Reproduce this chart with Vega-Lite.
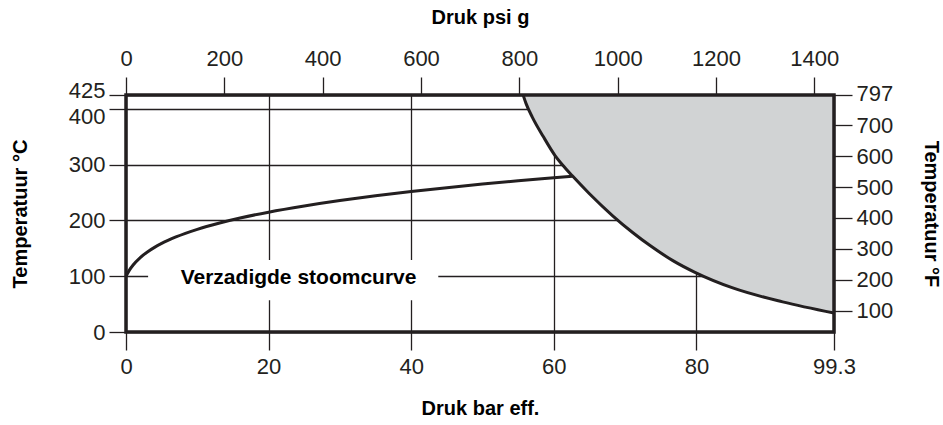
{
  "$schema": "https://vega.github.io/schema/vega-lite/v6.json",
  "width": 708,
  "height": 237,
  "autosize": "none",
  "padding": {"left": 126, "top": 95, "right": 109, "bottom": 93},
  "background": "white",
  "config": {
    "view": {"stroke": null},
    "axis": {
      "labelFont": "Liberation Sans",
      "labelFontSize": 22,
      "labelColor": "#231f20",
      "titleFont": "Liberation Sans",
      "titleFontSize": 20,
      "titleFontWeight": "bold",
      "titleColor": "#000000",
      "tickColor": "#231f20",
      "tickWidth": 1.3,
      "tickSize": 18,
      "domain": false,
      "gridColor": "#231f20",
      "gridWidth": 1.3,
      "gridOpacity": 1,
      "labelOverlap": false,
      "labelFlush": false
    }
  },
  "datasets": {
    "saturation": [
      {"bar": 0, "temp": 100},
      {"bar": 0.5, "temp": 111.4},
      {"bar": 1, "temp": 120.2},
      {"bar": 2, "temp": 133.5},
      {"bar": 3, "temp": 143.6},
      {"bar": 4, "temp": 151.8},
      {"bar": 5, "temp": 158.8},
      {"bar": 7, "temp": 170.4},
      {"bar": 10, "temp": 184.1},
      {"bar": 13, "temp": 195},
      {"bar": 16, "temp": 204.3},
      {"bar": 20, "temp": 214.9},
      {"bar": 25, "temp": 226},
      {"bar": 30, "temp": 235.7},
      {"bar": 35, "temp": 244.2},
      {"bar": 40, "temp": 251.8},
      {"bar": 45, "temp": 258.8},
      {"bar": 50, "temp": 265.2},
      {"bar": 55, "temp": 271.1},
      {"bar": 60, "temp": 276.6},
      {"bar": 62.6, "temp": 279.4}
    ],
    "boundary": [
      {"bar": 55.7, "temp": 425},
      {"bar": 56.1, "temp": 410},
      {"bar": 57.0, "temp": 385},
      {"bar": 58.5, "temp": 351},
      {"bar": 60.2, "temp": 316},
      {"bar": 61.2, "temp": 300},
      {"bar": 62.6, "temp": 280},
      {"bar": 65.0, "temp": 248},
      {"bar": 68.3, "temp": 208},
      {"bar": 71.1, "temp": 178},
      {"bar": 73.5, "temp": 155},
      {"bar": 76.7, "temp": 128},
      {"bar": 79.8, "temp": 107},
      {"bar": 85.1, "temp": 79},
      {"bar": 92.1, "temp": 54},
      {"bar": 99.3, "temp": 34}
    ],
    "label": [{"text": "Verzadigde stoomcurve"}],
    "secondary": [
      {"psi": 0, "degF": 32},
      {"psi": 1440, "degF": 797}
    ]
  },
  "layer": [
    {
      "layer": [
        {
          "data": {"name": "boundary"},
          "mark": {"type": "area", "color": "#d1d3d4", "interpolate": "monotone"},
          "encoding": {
            "x": {
              "field": "bar", "type": "quantitative",
              "scale": {"domain": [0, 99.3], "nice": false, "zero": false},
              "axis": {
                "orient": "bottom",
                "title": "Druk bar eff.",
                "values": [0, 20, 40, 60, 80, 99.3],
                "labelExpr": "datum.value + ''",
                "labelPadding": 6,
                "titlePadding": 21,
                "grid": true
              }
            },
            "y": {
              "field": "temp", "type": "quantitative",
              "scale": {"domain": [0, 425], "nice": false},
              "axis": {
                "orient": "left",
                "title": "Temperatuur °C",
                "values": [0, 100, 200, 300, 400, 425],
                "tickSize": 17,
                "labelPadding": 4,
                "titlePadding": 38,
                "grid": true,
                "labelOffset": {
                  "condition": [
                    {"test": "datum.value == 425", "value": -5},
                    {"test": "datum.value == 400", "value": 8}
                  ],
                  "value": 0
                }
              }
            },
            "y2": {"datum": 425}
          }
        },
        {
          "data": {"name": "boundary"},
          "mark": {"type": "line", "color": "#231f20", "strokeWidth": 3, "interpolate": "monotone"},
          "encoding": {
            "x": {"field": "bar", "type": "quantitative"},
            "y": {"field": "temp", "type": "quantitative"}
          }
        },
        {
          "data": {"name": "saturation"},
          "mark": {"type": "line", "color": "#231f20", "strokeWidth": 3, "interpolate": "monotone"},
          "encoding": {
            "x": {"field": "bar", "type": "quantitative"},
            "y": {"field": "temp", "type": "quantitative"}
          }
        },
        {
          "data": {"name": "label"},
          "mark": {"type": "rect", "color": "white"},
          "encoding": {
            "x": {"datum": 3.1, "type": "quantitative"},
            "x2": {"datum": 43.8},
            "y": {"datum": 57, "type": "quantitative"},
            "y2": {"datum": 129}
          }
        },
        {
          "data": {"name": "label"},
          "mark": {"type": "text", "font": "Liberation Sans", "fontSize": 21, "fontWeight": "bold", "color": "#000000", "align": "center", "baseline": "middle"},
          "encoding": {
            "x": {"datum": 24.2, "type": "quantitative"},
            "y": {"datum": 97, "type": "quantitative"},
            "text": {"field": "text"}
          }
        },
        {
          "data": {"name": "label"},
          "mark": {"type": "rect", "fill": null, "fillOpacity": 0, "stroke": "#231f20", "strokeWidth": 3.5},
          "encoding": {
            "x": {"datum": 0, "type": "quantitative"},
            "x2": {"datum": 99.3},
            "y": {"datum": 0, "type": "quantitative"},
            "y2": {"datum": 425}
          }
        }
      ]
    },
    {
      "data": {"name": "secondary"},
      "mark": {"type": "point", "opacity": 0, "size": 0},
      "encoding": {
        "x": {
          "field": "psi", "type": "quantitative",
          "scale": {"domain": [0, 1440], "nice": false, "zero": false},
          "axis": {
            "orient": "top",
            "title": "Druk psi g",
            "values": [0, 200, 400, 600, 800, 1000, 1200, 1400],
            "format": "d",
            "labelPadding": 7,
            "titlePadding": 20,
            "grid": false
          }
        },
        "y": {
          "field": "degF", "type": "quantitative",
          "scale": {"domain": [32, 797], "nice": false, "zero": false},
          "axis": {
            "orient": "right",
            "title": "Temperatuur °F",
            "values": [100, 200, 300, 400, 500, 600, 700, 797],
            "labelPadding": 4,
            "titlePadding": 28,
            "grid": false,
            "labelOffset": {
              "condition": {"test": "datum.value == 797", "value": -2},
              "value": 0
            }
          }
        }
      }
    }
  ],
  "resolve": {"scale": {"x": "independent", "y": "independent"}}
}
